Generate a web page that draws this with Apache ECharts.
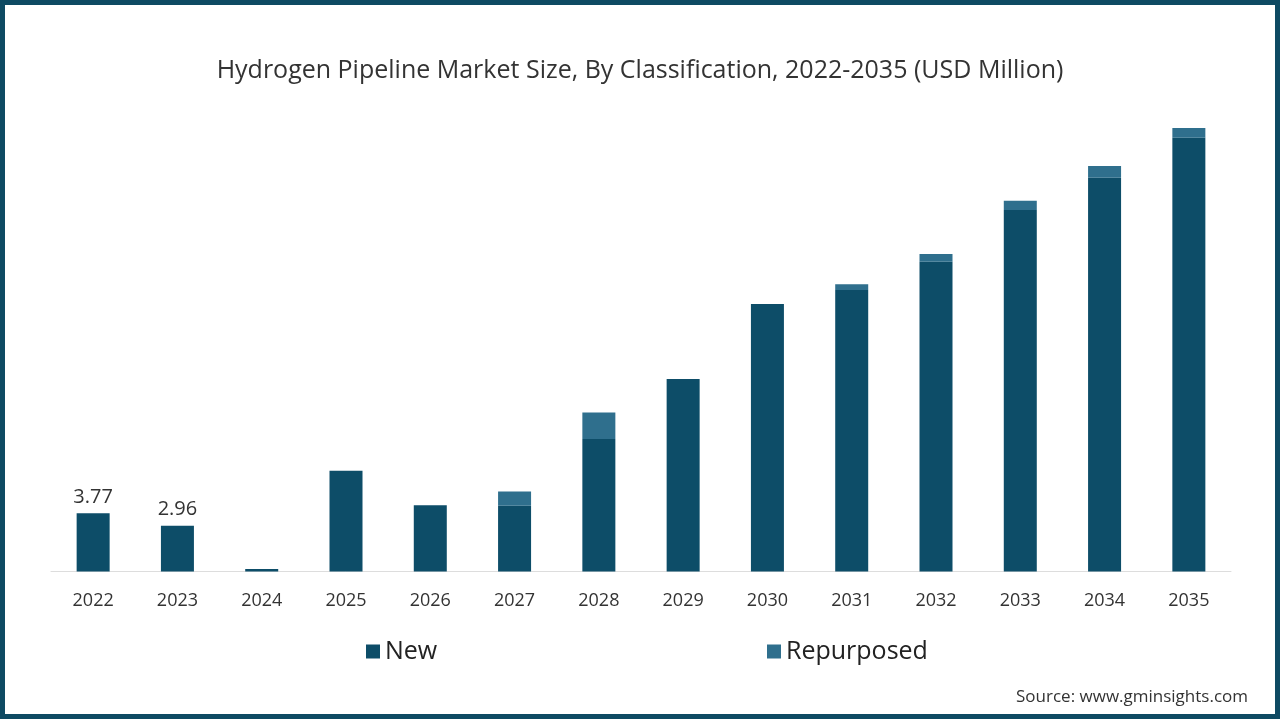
<!DOCTYPE html>
<html>
<head>
<meta charset="utf-8">
<script src="https://cdn.jsdelivr.net/npm/echarts@6/dist/echarts.min.js"></script>
<style>
html,body{margin:0;padding:0;background:#fff;}
#chart{width:1280px;height:720px;}
</style>
</head>
<body>
<div id="chart"></div>
<script>
const categories = ['2022','2023','2024','2025','2026','2027','2028','2029','2030','2031','2032','2033','2034','2035'];
const newValues = [3.77, 2.96, 0.16, 6.51, 4.29, 4.25, 8.56, 12.44, 17.29, 18.2, 20.03, 23.37, 25.46, 28.04];
const repurposedValues = [0, 0, 0, 0, 0, 0.93, 1.72, 0, 0, 0.37, 0.5, 0.6, 0.75, 0.63];
const labeledIndices = [0, 1];

const chart = echarts.init(document.getElementById('chart'));
const FONT = '"Open Sans", "Noto Sans", sans-serif';

chart.setOption({
  backgroundColor: '#ffffff',
  animation: false,
  title: {
    text: 'Hydrogen Pipeline Market Size, By Classification, 2022-2035 (USD Million)',
    left: 'center',
    top: 53,
    textStyle: {fontFamily: FONT, fontSize: 25, fontWeight: 'normal', color: '#333'}
  },
  graphic: [
    {type: 'rect', shape: {x: 2.5, y: 2.5, width: 1275, height: 714}, style: {fill: 'none', stroke: '#0e4a63', lineWidth: 5}, silent: true},
    {type: 'text', right: 32, top: 689, style: {text: 'Source: www.gminsights.com', font: '17px ' + FONT, fill: '#333'}}
  ],
  legend: [
    {data: ['New'], left: 361, top: 634, icon: 'rect', itemWidth: 14, itemHeight: 14, itemGap: 10,
     textStyle: {fontFamily: FONT, fontSize: 25, color: '#222'}},
    {data: ['Repurposed'], left: 762, top: 634, icon: 'rect', itemWidth: 14, itemHeight: 14, itemGap: 10,
     textStyle: {fontFamily: FONT, fontSize: 25, color: '#222'}}
  ],
  grid: {left: 51, right: 49, top: 107.5, bottom: 148.5, containLabel: false},
  xAxis: {
    type: 'category',
    data: categories,
    axisLine: {lineStyle: {color: '#dddddd', width: 1}},
    axisTick: {show: false},
    axisLabel: {fontFamily: FONT, fontSize: 18, color: '#333', margin: 20}
  },
  yAxis: {
    type: 'value', min: 0, max: 30,
    show: false,
    splitLine: {show: false}
  },
  series: [
    {
      name: 'New', type: 'bar', stack: 'total', barWidth: 33,
      itemStyle: {color: '#0d4d68'},
      data: newValues.map((v, i) => labeledIndices.includes(i)
        ? {value: v, label: {show: true, position: 'top', distance: 6, fontFamily: FONT, fontSize: 20, color: '#333'}}
        : v)
    },
    {
      name: 'Repurposed', type: 'bar', stack: 'total', barWidth: 33,
      itemStyle: {color: '#2f6f8d'},
      data: repurposedValues
    }
  ]
});
</script>
</body>
</html>
